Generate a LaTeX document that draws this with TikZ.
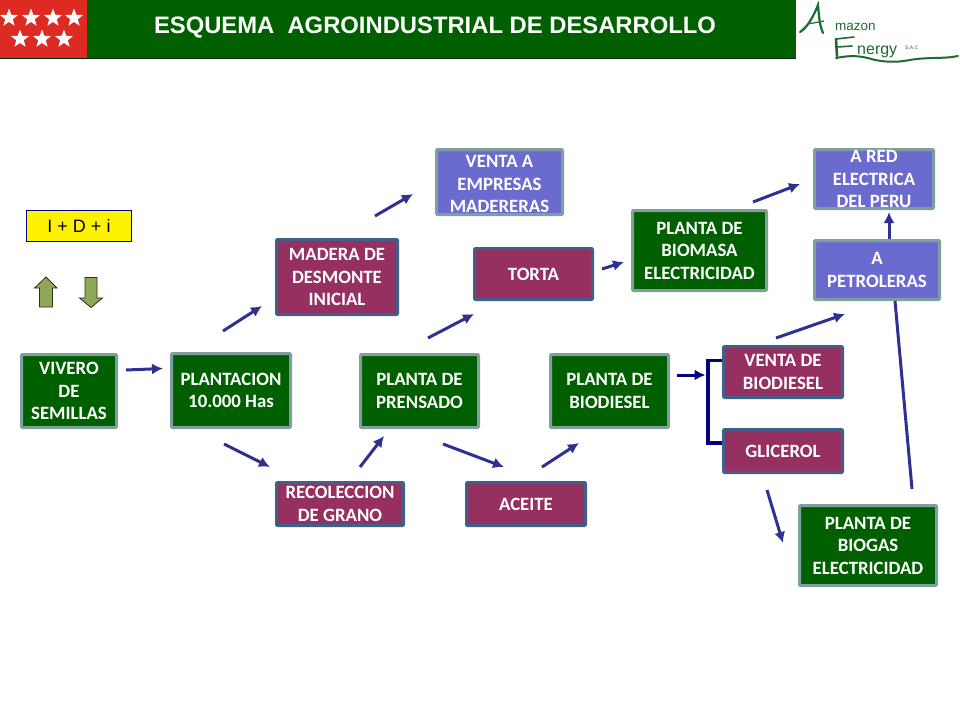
\documentclass[tikz,border=0pt]{standalone}
\usepackage{fontspec}
\setmainfont{Carlito}
\newfontfamily\titlefont{Liberation Sans}
\usetikzlibrary{shapes.geometric,arrows.meta}
\definecolor{dkgreen}{HTML}{006000}
\definecolor{plum}{HTML}{953060}
\definecolor{slate}{HTML}{3F6088}
\definecolor{lilac}{HTML}{6B6BCF}
\definecolor{greyb}{HTML}{7F9F9F}
\definecolor{arrowb}{HTML}{2E3192}
\definecolor{navyb}{HTML}{000080}
\definecolor{flag}{HTML}{DD2A22}
\definecolor{olive}{HTML}{8FA858}
\definecolor{logog}{HTML}{1F6B2F}
\tikzset{
 box/.style={minimum width=0pt,minimum height=0pt,inner sep=0pt,align=center,text=white,rounded corners=1pt,font=\bfseries\fontsize{18.8}{22.5}\selectfont,line width=3pt},
 gbox/.style={box,draw=greyb,fill=dkgreen},
 pbox/.style={box,draw=slate,fill=plum},
 bbox/.style={box,draw=greyb,fill=lilac},
 flow/.style={draw=arrowb,line width=3pt,-{Latex[length=11pt,width=11pt]}},
 bar/.style={draw=navyb,line width=3.2pt},
 starn/.style={star,star points=5,star point ratio=2.4,fill=white,inner sep=0pt,minimum size=19pt},
 upd/.style={draw=black!70!olive,fill=olive,line width=.8pt},
}
\newcommand{\bx}[7]{\node[#1,minimum width=#4 pt-#3 pt-3pt,minimum height=#6 pt-#5 pt-3pt] (#2) at ({(#3+#4)/2},{(#5+#6)/2}) {#7};}
\begin{document}
\begin{tikzpicture}[x=1pt,y=-1pt]
\useasboundingbox (0,0) rectangle (960,720);
\fill[white] (0,0) rectangle (960,720);
% header
\node[draw=none,fill=dkgreen,minimum width=709pt,minimum height=58pt,inner sep=0pt] (band) at (441.5,29) {};
\fill[flag] (0,0) rectangle (87,58);
\draw[black!60!dkgreen,line width=1pt] (0,58.5) -- (796,58.5);
\node[text=white,font=\titlefont\bfseries\fontsize{23.8}{26}\selectfont,inner sep=0pt] (title) at (435,27.5) {ESQUEMA\ \ AGROINDUSTRIAL DE DESARROLLO};
\foreach \i/\x/\y in {1/9/18,2/31/18,3/53/18,4/74/18,5/20/39,6/42/39,7/64/39}
  \node[starn] (s\i) at (\x,\y) {};
% logo
\node[text=logog,font=\titlefont\fontsize{13.5}{14}\selectfont,inner sep=0pt,anchor=west] (amazon) at (835,27) {mazon};
\node[text=logog,font=\titlefont\fontsize{16}{17}\selectfont,inner sep=0pt,anchor=west] (energy) at (857,52) {nergy};
\node[text=logog,font=\titlefont\fontsize{5}{6}\selectfont,inner sep=0pt,anchor=west] (sac) at (905,48) {S.A.C};
\draw[logog,line width=2.2pt,line cap=round] (800,32) .. controls (808,27) and (814,15) .. (818,5) .. controls (819,14) and (819,24) .. (823,33);
\draw[logog,line width=1.2pt] (808,24) -- (824,21);
\draw[logog,line width=2.6pt,line cap=round] (836,39) -- (837,56);
\draw[logog,line width=1.6pt,line cap=round] (836,39) -- (854,37) (837,47) -- (852,46);
\draw[logog,line width=2pt,line cap=round] (836,58) .. controls (852,55) and (858,56) .. (868,58) .. controls (880,62) and (895,63) .. (910,60) .. controls (925,57) and (945,59) .. (958,56);
% label
\node[draw=navyb,fill=yellow,line width=1pt,minimum width=105pt,minimum height=31pt,inner sep=0pt,font=\titlefont\fontsize{18}{20}\selectfont] (idi) at (79,225.5) {I + D + i};
\draw[upd] (46,277) -- (57,288) -- (52.5,288) -- (52.5,307) -- (39.5,307) -- (39.5,288) -- (34.5,288) -- cycle;
\draw[upd] (91,307.5) -- (79.5,298) -- (85,298) -- (85,277.5) -- (97,277.5) -- (97,298) -- (102.5,298) -- cycle;
% boxes
\bx{gbox}{vivero}{20}{118}{353}{429}{VIVERO\\DE\\SEMILLAS}
\bx{gbox}{plantacion}{170}{292}{352}{429}{PLANTACION\\10.000 Has}
\bx{pbox}{madera}{275}{399}{238}{316}{MADERA DE\\DESMONTE\\INICIAL}
\bx{pbox}{recoleccion}{275}{405}{481}{527}{RECOLECCION\\DE GRANO}
\bx{gbox}{prensado}{359}{480}{353}{429}{PLANTA DE\\PRENSADO}
\bx{pbox}{aceite}{465}{587}{481}{527}{ACEITE}
\bx{pbox}{torta}{473}{594}{247}{301}{TORTA}
\bx{bbox}{empresas}{435}{564}{148}{216}{\rule{0pt}{17pt}VENTA A\\EMPRESAS\\MADERERAS}
\bx{gbox}{biomasa}{631}{768}{209}{292}{PLANTA DE\\BIOMASA\\ELECTRICIDAD}
\bx{gbox}{biodiesel}{549}{670}{353}{429}{PLANTA DE\\BIODIESEL}
\bx{pbox}{ventabio}{722}{844}{345}{399}{VENTA DE\\BIODIESEL}
\bx{pbox}{glicerol}{722}{844}{428}{474}{GLICEROL}
\bx{gbox}{biogas}{798}{938}{504}{587}{PLANTA DE\\BIOGAS\\ELECTRICIDAD}
\bx{bbox}{petroleras}{813}{941}{239}{301}{A\\PETROLERAS}
\bx{bbox}{red}{813}{935}{148}{210}{A RED\\ELECTRICA\\DEL PERU}
% arrow end points
\foreach \n/\x/\y in {a1/126/370,a2/163/368.5,b1/223/331,b2/262/306,c1/224/444,c2/270/467,d1/375/216,d2/413/194,e1/360/467,e2/384/436,f1/428/338,f2/474/314,g1/443/444,g2/504/467,h1/542/467,h2/579/443,i1/602/269,i2/624/262,j1/753/202,j2/800/184,k1/776/338,k2/845/314,l1/767/490,l2/783/543,m1/912/489,m2/895/301,n1/889/239,n2/889/212,o1/677/375,o2/705.5/375,p1/708/360.5,p2/708/443}
  \coordinate (\n) at (\x,\y);
\path[flow] (a1) -- (a2);
\path[flow] (b1) -- (b2);
\path[flow] (c1) -- (c2);
\path[flow] (d1) -- (d2);
\path[flow] (e1) -- (e2);
\path[flow] (f1) -- (f2);
\path[flow] (g1) -- (g2);
\path[flow] (h1) -- (h2);
\path[flow] (i1) -- (i2);
\path[flow] (j1) -- (j2);
\path[flow] (k1) -- (k2);
\path[flow] (l1) -- (l2);
\path[draw=arrowb,line width=3pt] (m1) -- (m2);
\path[flow] (n1) -- (n2);
\path[draw=navyb,line width=3pt,-{Latex[length=11pt,width=11pt]}] (o1) -- (o2);
\path[bar] (ventabio.west |- p1) -- (p1) -- (p2) -- (glicerol.west |- p2);
\end{tikzpicture}
\end{document}
